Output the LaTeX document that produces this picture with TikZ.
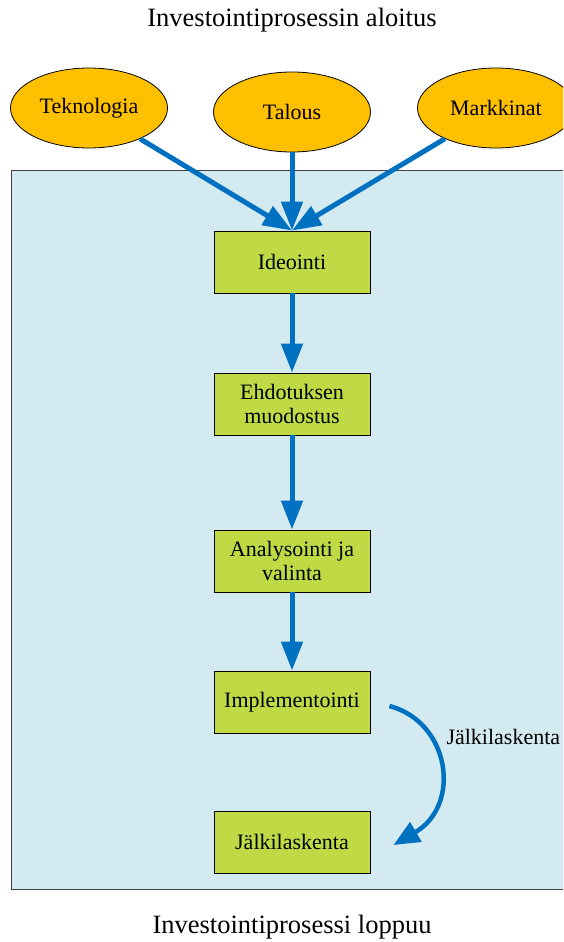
\documentclass[tikz,border=0pt]{standalone}
\usepackage{fontspec}
\setmainfont{Liberation Serif}
\usetikzlibrary{arrows.meta,shapes.geometric,calc}
\definecolor{orangefill}{HTML}{FFC000}
\definecolor{greenfill}{HTML}{C0DA45}
\definecolor{panelfill}{HTML}{D2EAF0}
\definecolor{flowblue}{HTML}{0070C0}
\tikzset{
  source/.style={ellipse, draw=black, line width=0.8pt, fill=orangefill,
    minimum width=157pt, minimum height=80pt, inner sep=0pt,
    font=\fontsize{22}{24}\selectfont},
  stage/.style={rectangle, draw=black, line width=0.9pt, fill=greenfill,
    minimum width=156pt, minimum height=62pt, inner sep=0pt, align=center,
    font=\fontsize{22}{24}\selectfont},
  flow/.style={draw=flowblue, line width=5pt,
    -{Triangle[width=21pt,length=29pt]}},
  caption/.style={font=\fontsize{26.5}{30}\selectfont},
}
\begin{document}
\begin{tikzpicture}[x=1pt,y=-1pt]
\useasboundingbox (0,0) rectangle (563,942);
\clip (0,0) rectangle (563,942);

% panel behind the process stages
\draw[fill=panelfill, draw=black!75, line width=0.9pt] (11,170) rectangle (600,889);

\node[caption] (start) at (292,20) {Investointiprosessin aloitus};
\node[caption] (end) at (292,927) {Investointiprosessi loppuu};

% sources of ideas
\node[source] (tek) at (89,108) {Teknologia};
\node[source] (tal) at (292,112) {Talous};
\node[source] (mar) at (496,108) {Markkinat};

% process stages
\node[stage] (ideo) at (292,262) {Ideointi};
\node[stage] (ehd) at (292,404) {Ehdotuksen\\muodostus};
\node[stage] (ana) at (292,561) {Analysointi ja\\valinta};
\node[stage] (imp) at (292,702) {Implementointi};
\node[stage] (jal) at (292,842) {Jälkilaskenta};

% connectors
\draw[flow] (tek) -- (ideo.north);
\draw[flow] (tal) -- (ideo.north);
\draw[flow] (mar) -- (ideo.north);
\draw[flow] (ideo) -- (ehd);
\draw[flow] (ehd) -- (ana);
\draw[flow] (ana) -- (imp);

\coordinate (loopa) at ($(imp.east)+(19,4)$);
\coordinate (loopb) at ($(jal.east)+(23,3)$);
\draw[draw=flowblue, line width=4.5pt, -{Triangle[width=22pt,length=26pt]}]
  (loopa) .. controls (450,722) and (462,805) .. (loopb);
\node[font=\fontsize{22}{24}\selectfont, anchor=west] (loopl) at (443,737) {Jälkilaskenta};
\end{tikzpicture}
\end{document}
